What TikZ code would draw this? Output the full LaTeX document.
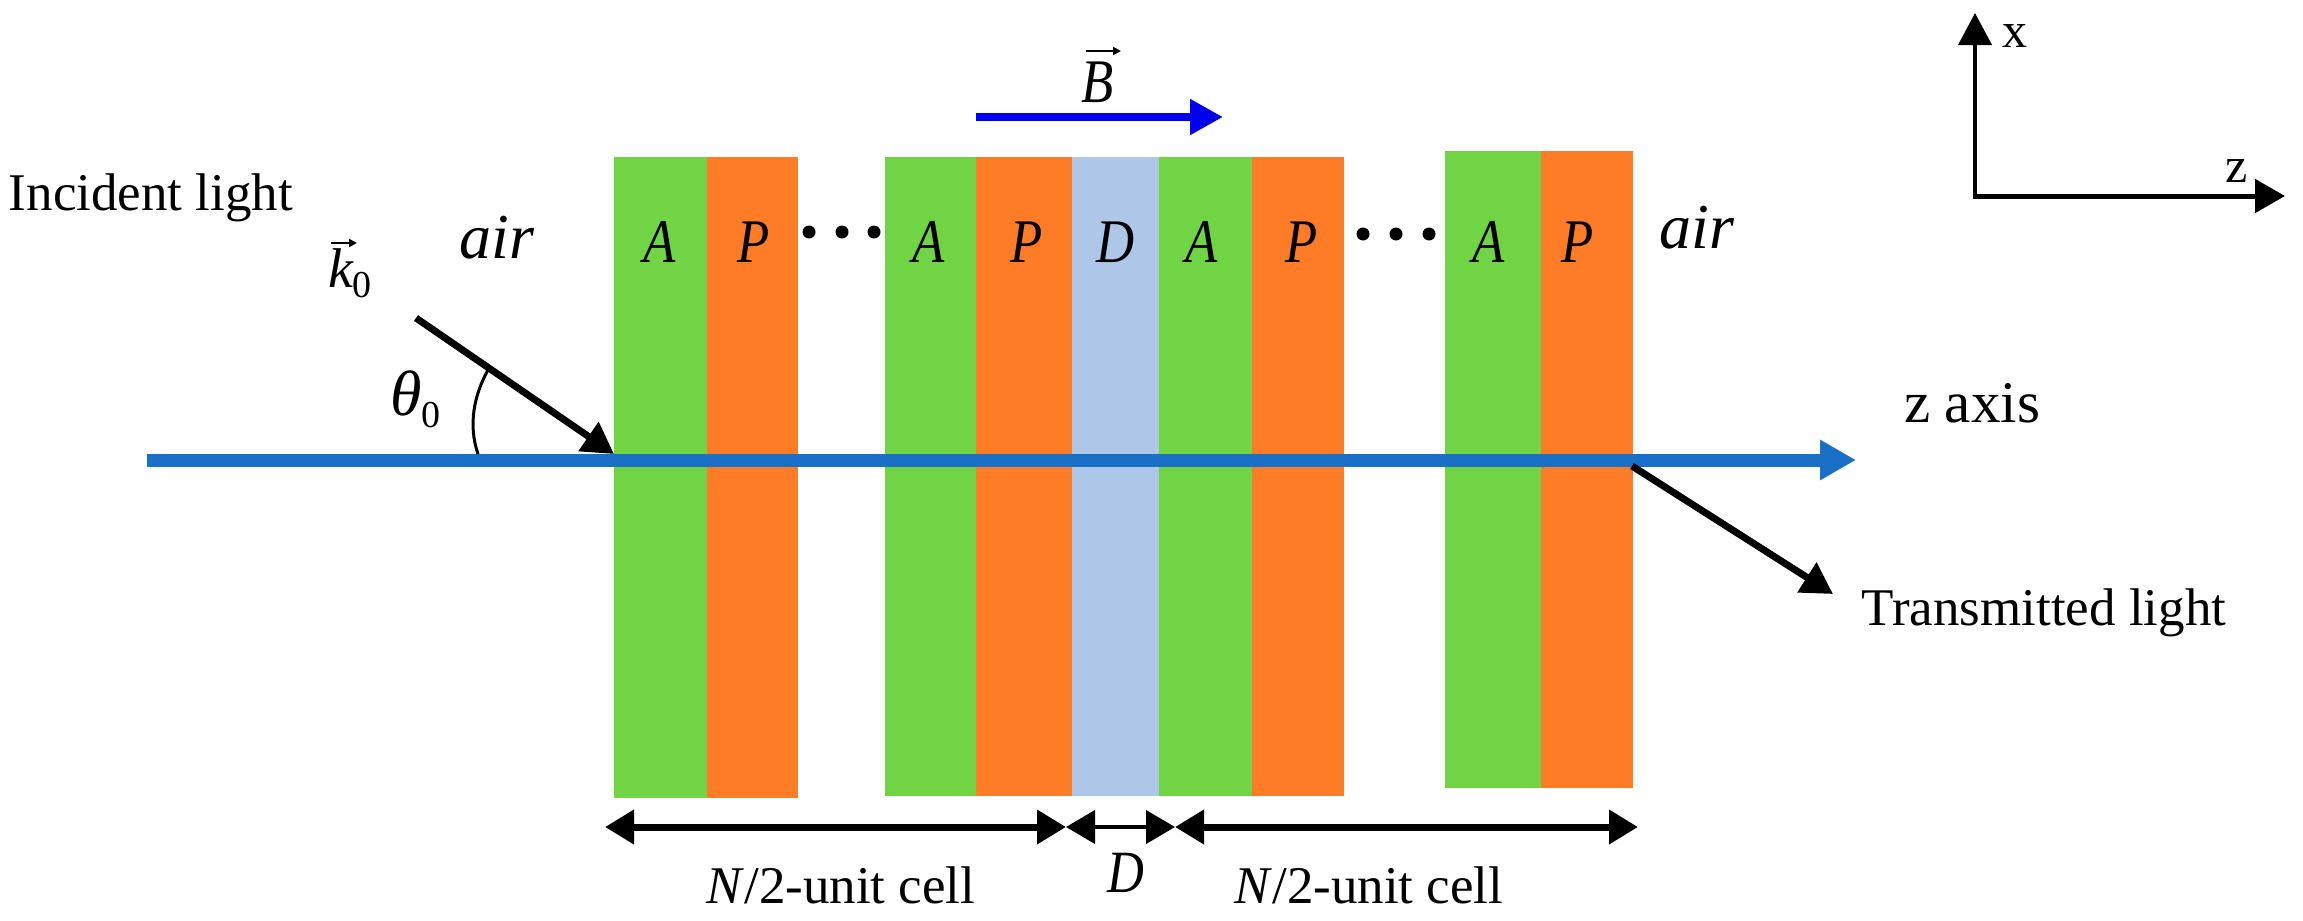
\documentclass[tikz,border=0pt]{standalone}
\usepackage{fontspec}
\setmainfont{Liberation Serif}
\usetikzlibrary{arrows.meta}
\definecolor{layerA}{HTML}{70D444}
\definecolor{layerP}{HTML}{FF7C26}
\definecolor{layerD}{HTML}{AEC7E8}
\definecolor{axisblue}{HTML}{1A70C6}
\definecolor{fieldblue}{HTML}{0000F0}
\newcommand{\szA}{\fontsize{53}{58}\selectfont}
\newcommand{\szB}{\fontsize{62}{68}\selectfont}
\newcommand{\narrow}[1]{\scalebox{.85}[1]{#1}}
\newcommand{\subzero}[1]{\raisebox{-#1pt}{\fontsize{38}{38}\selectfont\upshape 0}}
\tikzset{
  x=1pt,y=-1pt,
  plain/.style={inner sep=0pt,outer sep=0pt,anchor=base,font=\szA},
  sym/.style={inner sep=0pt,outer sep=0pt,anchor=base,font=\szB\itshape},
  dotmark/.style={circle,fill=black,minimum size=13pt,inner sep=0pt},
  blk/.style={draw=black,line width=#1,-{Triangle[length=31pt,width=34pt]}},
  dimline/.style={draw=black,line width=#1,{Triangle[length=29pt,width=33pt]}-{Triangle[length=29pt,width=33pt]}},
  vecbar/.style={draw=black,line width=2pt,-{Triangle[length=8pt,width=8pt]}},
}
\begin{document}
\begin{tikzpicture}
\useasboundingbox (0,0) rectangle (2303,921);
\fill[white] (0,0) rectangle (2303,921);
% layers
\fill[layerA] (614,157) rectangle (707,798);
\fill[layerP] (707,157) rectangle (798,798);
\fill[layerA] (885,157) rectangle (976,796);
\fill[layerP] (976,157) rectangle (1072,796);
\fill[layerD] (1072,157) rectangle (1159,796);
\fill[layerA] (1159,157) rectangle (1252,796);
\fill[layerP] (1252,157) rectangle (1344,796);
\fill[layerA] (1445,151) rectangle (1541,788);
\fill[layerP] (1541,151) rectangle (1633,788);
% layer letters
\node[sym] (a1) at (660,262) {\narrow{A}};
\node[sym] (p1) at (754,262) {\narrow{P}};
\node[sym] (a2) at (929,262) {\narrow{A}};
\node[sym] (p2) at (1027,262) {\narrow{P}};
\node[sym] (d1) at (1116,262) {\narrow{D}};
\node[sym] (a3) at (1202,262) {\narrow{A}};
\node[sym] (p3) at (1302,262) {\narrow{P}};
\node[sym] (a4) at (1489,262) {\narrow{A}};
\node[sym] (p4) at (1578,262) {\narrow{P}};
% dots
\foreach \n/\px/\py in {da/809/232,db/842/232,dc/874/232,dd/1363/234,de/1396/234,df/1429/234}
  \node[dotmark] (\n) at (\px,\py) {};
% coordinates
\coordinate (axisL) at (147,460);
\coordinate (axisR) at (1856,460);
\coordinate (kS) at (416,318);
\coordinate (kE) at (614,454);
\coordinate (tS) at (1632,466);
\coordinate (tE) at (1833,594);
\coordinate (bS) at (976,117);
\coordinate (bE) at (1223,117);
\coordinate (orig) at (1975,198);
\coordinate (origL) at (1973,196);
\coordinate (xE) at (1975,13);
\coordinate (zE) at (2285,196);
\coordinate (m1) at (605,827);
\coordinate (m2) at (1066,827);
\coordinate (m3) at (1175,827);
\coordinate (m4) at (1638,827);
\coordinate (arcA) at (488,370);
\coordinate (arcB) at (478,454);
\coordinate (kvA) at (331,243);
\coordinate (kvB) at (357,243);
\coordinate (bvA) at (1086,51);
\coordinate (bvB) at (1121,51);
% arrows
\draw[draw=axisblue,line width=13pt,-{Triangle[length=36pt,width=38pt]}] (axisL) -- (axisR);
\draw[blk=7pt] (kS) -- (kE);
\draw[blk=7pt] (tS) -- (tE);
\draw[draw=fieldblue,line width=8pt,-{Triangle[length=33pt,width=34pt]}] (bS) -- (bE);
\draw[draw=black,line width=4pt,-{Triangle[length=32pt,width=33pt]}] (orig) -- (xE);
\draw[draw=black,line width=5pt,-{Triangle[length=30pt,width=33pt]}] (origL) -- (zE);
\draw[dimline=7pt] (m1) -- (m2);
\draw[dimline=4pt] (m2) -- (m3);
\draw[dimline=7pt] (m3) -- (m4);
\draw[black,line width=3pt] (arcA) .. controls (474,395) and (468,425) .. (arcB);
\draw[vecbar] (kvA) -- (kvB);
\draw[vecbar] (bvA) -- (bvB);
% text
\node[plain,anchor=base west] (inc) at (9,210) {Incident light};
\node[plain] (trans) at (2044,625) {Transmitted light};
\node[plain,font=\fontsize{59}{64}\selectfont] (zaxis) at (1972,422) {z axis};
\node[plain,font=\fontsize{50}{54}\selectfont] (xl) at (2015,47) {x};
\node[plain,font=\fontsize{50}{54}\selectfont] (zl) at (2237,182) {z};
\node[sym,font=\fontsize{64}{70}\selectfont\itshape] (airL) at (497,258) {air};
\node[sym,font=\fontsize{64}{70}\selectfont\itshape] (airR) at (1697,248) {air};
\node[sym,anchor=base west,font=\fontsize{56}{60}\selectfont\itshape] (kv) at (328,287) {k\subzero{10}};
\node[sym,anchor=base west,font=\fontsize{64}{66}\selectfont\itshape] (th) at (390,415) {θ\subzero{12}};
\node[sym] (bv) at (1098,102) {\narrow{B}};
\node[plain] (n1) at (841,903) {\textit{N}/2-unit cell};
\node[plain] (n2) at (1369,903) {\textit{N}/2-unit cell};
\node[sym,font=\fontsize{60}{66}\selectfont\itshape] (dd2) at (1126,892) {\narrow{D}};
\end{tikzpicture}
\end{document}
